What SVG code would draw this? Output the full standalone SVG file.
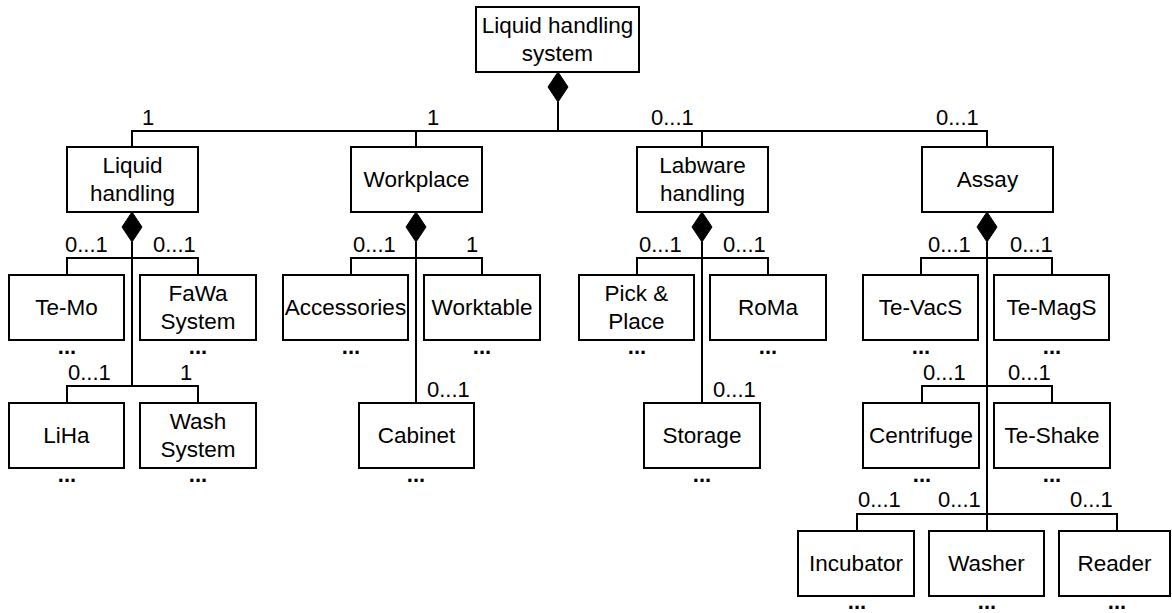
<svg xmlns="http://www.w3.org/2000/svg" width="1172" height="613" viewBox="0 0 1172 613">
<style>
rect.box{fill:#fff;stroke:#000;stroke-width:2}
text{font-family:"Liberation Sans",Arial,sans-serif;font-size:22.5px;fill:#000}
text.c{text-anchor:middle}
text.m{font-size:22px}
text.d{font-weight:bold;font-size:22px;text-anchor:middle}
#connectors line,#connectors polyline{stroke:#000;stroke-width:2;fill:none}
#connectors polygon{fill:#000;stroke:#000;stroke-width:1}
</style>
<g id="connectors">
  <!-- root -->
  <polygon points="558,72 568,87 558,102 548,87"/>
  <line x1="558" y1="102" x2="558" y2="131"/>
  <line x1="131" y1="131" x2="988" y2="131"/>
  <line x1="132" y1="131" x2="132" y2="147"/>
  <line x1="416" y1="131" x2="416" y2="147"/>
  <line x1="702" y1="131" x2="702" y2="147"/>
  <line x1="987" y1="131" x2="987" y2="147"/>
  <!-- liquid handling -->
  <polygon points="132,212 142,227 132,242 122,227"/>
  <line x1="132" y1="242" x2="132" y2="386"/>
  <polyline points="67,275 67,258 198,258 198,275"/>
  <polyline points="67,403 67,386 198,386 198,403"/>
  <!-- workplace -->
  <polygon points="416,212 426,227 416,242 406,227"/>
  <line x1="416" y1="242" x2="416" y2="403"/>
  <polyline points="351,275 351,258 482,258 482,275"/>
  <!-- labware -->
  <polygon points="702,212 712,227 702,242 692,227"/>
  <line x1="702" y1="242" x2="702" y2="403"/>
  <polyline points="637,275 637,258 768,258 768,275"/>
  <!-- assay -->
  <polygon points="987,212 997,227 987,242 977,227"/>
  <line x1="987" y1="242" x2="987" y2="531"/>
  <polyline points="921,275 921,258 1052,258 1052,275"/>
  <polyline points="922,403 922,386 1052,386 1052,403"/>
  <polyline points="857,531 857,514 1117,514 1117,531"/>
</g>
<g id="labels">
  <text class="m" x="142" y="125">1</text>
  <text class="m" x="427" y="125">1</text>
  <text class="m" x="651" y="125">0...1</text>
  <text class="m" x="936" y="125">0...1</text>

  <text class="m" x="65" y="252">0...1</text>
  <text class="m" x="153" y="252">0...1</text>
  <text class="m" x="68" y="380">0...1</text>
  <text class="m" x="180" y="380">1</text>

  <text class="m" x="353" y="252">0...1</text>
  <text class="m" x="466" y="252">1</text>
  <text class="m" x="427" y="397">0...1</text>

  <text class="m" x="639" y="252">0...1</text>
  <text class="m" x="723" y="252">0...1</text>
  <text class="m" x="713" y="397">0...1</text>

  <text class="m" x="928" y="252">0...1</text>
  <text class="m" x="1010" y="252">0...1</text>
  <text class="m" x="923" y="380">0...1</text>
  <text class="m" x="1008" y="380">0...1</text>
  <text class="m" x="858" y="507">0...1</text>
  <text class="m" x="938" y="507">0...1</text>
  <text class="m" x="1070" y="507">0...1</text>
</g>
<g id="node-root"><rect class="box" x="476" y="7" width="163" height="65"/><text class="c" x="557.5" y="33">Liquid handling</text><text class="c" x="557.5" y="61">system</text></g>
<g id="node-liquid-handling"><rect class="box" x="67" y="147" width="131" height="65"/><text class="c" x="132.5" y="173">Liquid</text><text class="c" x="132.5" y="201">handling</text></g>
<g id="node-workplace"><rect class="box" x="351" y="147" width="131" height="65"/><text class="c" x="416.5" y="187">Workplace</text></g>
<g id="node-labware"><rect class="box" x="637" y="147" width="131" height="65"/><text class="c" x="702.5" y="173">Labware</text><text class="c" x="702.5" y="201">handling</text></g>
<g id="node-assay"><rect class="box" x="922" y="147" width="131" height="65"/><text class="c" x="987.5" y="187">Assay</text></g>

<g id="node-temo"><rect class="box" x="9" y="275" width="115" height="65"/><text class="c" x="66.5" y="315">Te-Mo</text><text class="d" x="67" y="354">...</text></g>
<g id="node-fawa"><rect class="box" x="140" y="275" width="116" height="65"/><text class="c" x="198" y="301">FaWa</text><text class="c" x="198" y="329">System</text><text class="d" x="198" y="354">...</text></g>
<g id="node-liha"><rect class="box" x="9" y="403" width="115" height="65"/><text class="c" x="66.5" y="443">LiHa</text><text class="d" x="67" y="482">...</text></g>
<g id="node-wash"><rect class="box" x="140" y="403" width="116" height="65"/><text class="c" x="198" y="429">Wash</text><text class="c" x="198" y="457">System</text><text class="d" x="198" y="482">...</text></g>

<g id="node-accessories"><rect class="box" x="283" y="275" width="125" height="65"/><text class="c" x="345.5" y="315">Accessories</text><text class="d" x="351" y="354">...</text></g>
<g id="node-worktable"><rect class="box" x="424" y="275" width="116" height="65"/><text class="c" x="482" y="315">Worktable</text><text class="d" x="482" y="354">...</text></g>
<g id="node-cabinet"><rect class="box" x="359" y="403" width="115" height="65"/><text class="c" x="416.5" y="443">Cabinet</text><text class="d" x="416" y="482">...</text></g>

<g id="node-pickplace"><rect class="box" x="579" y="275" width="115" height="65"/><text class="c" x="636.5" y="301">Pick &amp;</text><text class="c" x="636.5" y="329">Place</text><text class="d" x="637" y="354">...</text></g>
<g id="node-roma"><rect class="box" x="710" y="275" width="116" height="65"/><text class="c" x="768" y="315">RoMa</text><text class="d" x="768" y="354">...</text></g>
<g id="node-storage"><rect class="box" x="644" y="403" width="116" height="65"/><text class="c" x="702" y="443">Storage</text><text class="d" x="702" y="482">...</text></g>

<g id="node-tevacs"><rect class="box" x="863" y="275" width="115" height="65"/><text class="c" x="920.5" y="315">Te-VacS</text><text class="d" x="921" y="354">...</text></g>
<g id="node-temags"><rect class="box" x="994" y="275" width="115" height="65"/><text class="c" x="1051.5" y="315">Te-MagS</text><text class="d" x="1052" y="354">...</text></g>
<g id="node-centrifuge"><rect class="box" x="863" y="403" width="116" height="65"/><text class="c" x="921" y="443">Centrifuge</text><text class="d" x="922" y="482">...</text></g>
<g id="node-teshake"><rect class="box" x="994" y="403" width="116" height="65"/><text class="c" x="1052" y="443">Te-Shake</text><text class="d" x="1052" y="482">...</text></g>
<g id="node-incubator"><rect class="box" x="798" y="531" width="116" height="65"/><text class="c" x="856" y="571">Incubator</text><text class="d" x="857" y="609">...</text></g>
<g id="node-washer"><rect class="box" x="929" y="531" width="115" height="65"/><text class="c" x="986.5" y="571">Washer</text><text class="d" x="987" y="609">...</text></g>
<g id="node-reader"><rect class="box" x="1059" y="531" width="111" height="65"/><text class="c" x="1114.5" y="571">Reader</text><text class="d" x="1117" y="609">...</text></g>
</svg>
